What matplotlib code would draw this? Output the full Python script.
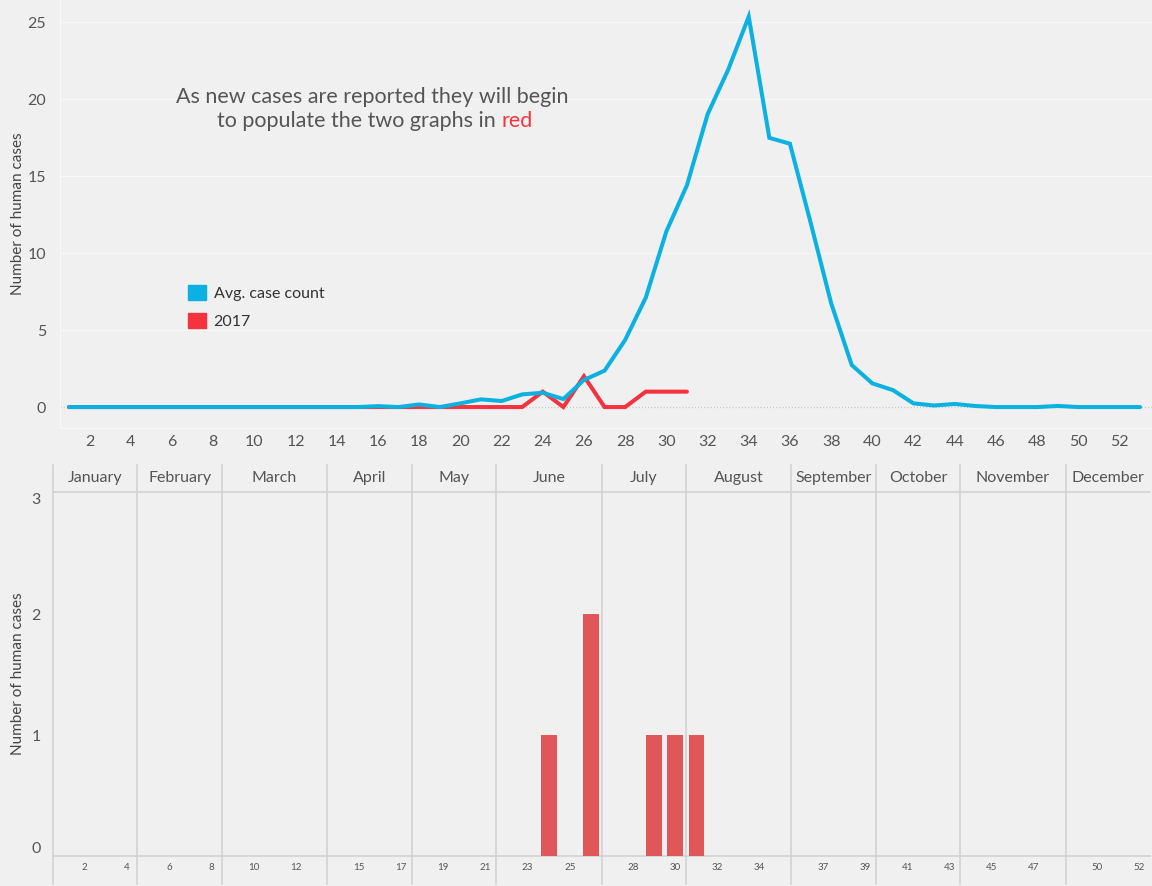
import matplotlib
matplotlib.use("Agg")
import matplotlib.pyplot as plt
from matplotlib.patches import Patch
from matplotlib import font_manager

# ---------------- data ----------------
weeks = list(range(1, 54))
avg_cases = [0, 0, 0, 0, 0, 0, 0, 0, 0, 0,
             0, 0, 0, 0, 0, 0.06, 0, 0.17, 0, 0.24,
             0.5, 0.39, 0.82, 0.93, 0.52, 1.76, 2.36, 4.36, 7.1, 11.4,
             14.4, 19.0, 21.9, 25.35, 17.48, 17.1, 12.0, 6.75, 2.73, 1.54,
             1.1, 0.24, 0.1, 0.2, 0.07, 0, 0, 0, 0.07, 0,
             0, 0, 0]
weeks_2017 = list(range(1, 32))
cases_2017 = [0] * 23 + [1, 0, 2, 0, 0, 1, 1, 1]

bar_weeks = [24, 26, 29, 30, 31]
bar_values = [1, 2, 1, 1, 1]

months = ["January", "February", "March", "April", "May", "June", "July",
          "August", "September", "October", "November", "December"]
weeks_per_month = [4, 4, 5, 4, 4, 5, 4, 5, 4, 4, 5, 4]
bottom_ticks = [2, 4, 6, 8, 10, 12, 15, 17, 19, 21, 23, 25, 28, 30, 32, 34,
                37, 39, 41, 43, 45, 47, 50, 52]
top_xticks = list(range(2, 53, 2))
top_yticks = [0, 5, 10, 15, 20, 25]
bottom_yticks = [0, 1, 2, 3]

# ---------------- style ----------------
names = {f.name for f in font_manager.fontManager.ttflist}
family = "Lato" if "Lato" in names else "DejaVu Sans"
plt.rcParams["font.family"] = [family, "DejaVu Sans"]

BG = "#F0F0F0"
TXT = "#555555"
BLUE = "#0BB1E0"
RED = "#F5333F"
BAR = "#E15759"
DIV = "#D2D2D2"

W, H = 1152, 886
fig = plt.figure(figsize=(W / 100, H / 100), dpi=100, facecolor=BG)

def px_axes(x0, y0, x1, y1):
    return fig.add_axes([x0 / W, (H - y1) / H, (x1 - x0) / W, (y1 - y0) / H])

# ---------------- top chart ----------------
ax = px_axes(60, 0, 1152, 428)
ax.set_facecolor(BG)
ax.plot(weeks_2017, cases_2017, color=RED, lw=2.9, solid_joinstyle="miter",
        solid_capstyle="round", zorder=3)
ax.plot(weeks, avg_cases, color=BLUE, lw=2.9, solid_joinstyle="miter",
        solid_capstyle="round", zorder=4)
ax.axhline(0, color="#C4C4C4", lw=0.9, ls=(0, (1, 1.5)), zorder=2)
ax.set_xlim(0.56, 53.58)
ax.set_ylim(-1.36, 26.43)
ax.set_xticks(top_xticks)
ax.set_yticks(top_yticks)
ax.yaxis.grid(True, color="#F8F8F8", lw=0.8)
ax.set_axisbelow(True)
for s in ["top", "right"]:
    ax.spines[s].set_visible(False)
for s in ["left", "bottom"]:
    ax.spines[s].set_color("#F8F8F8")
ax.tick_params(axis="both", length=0, colors=TXT, labelsize=11.5)
ax.tick_params(axis="x", pad=5)
ax.tick_params(axis="y", pad=10)
ax.set_ylabel("Number of human cases", color="#444444", fontsize=11)
ax.yaxis.set_label_coords((25 - 60) / 1092, 0.5)

leg = ax.legend(handles=[Patch(color=BLUE, label="Avg. case count"),
                         Patch(color=RED, label="2017")],
                loc="upper left", bbox_to_anchor=(188 / W, (H - 285) / H),
                bbox_transform=fig.transFigure, frameon=False, fontsize=11.5,
                handlelength=1.1, handleheight=1.1, handletextpad=0.5,
                labelspacing=0.75, borderpad=0, borderaxespad=0)
for t in leg.get_texts():
    t.set_color("#333333")

fig.text(372 / W, (H - 97) / H, "As new cases are reported they will begin",
         ha="center", va="center", fontsize=15.5, color=TXT)
t2 = fig.text(217 / W, (H - 121) / H, "to populate the two graphs in ",
              ha="left", va="center", fontsize=15.5, color=TXT)
ax.annotate("red", xy=(1, 0), xycoords=t2, ha="left", va="bottom",
            fontsize=15.5, color=RED)

# ---------------- bottom chart ----------------
bx = px_axes(53, 492, 1150, 856)
bx.set_facecolor(BG)
bx.bar(bar_weeks, bar_values, width=0.75, color=BAR, zorder=3)
bx.set_xlim(0.5, 52.5)
bx.set_ylim(0, 3.01)
bx.set_xticks(bottom_ticks)
bx.set_yticks(bottom_yticks)
for s in ["top", "right", "left"]:
    bx.spines[s].set_visible(False)
bx.spines["bottom"].set_color(DIV)
bx.spines["bottom"].set_linewidth(1.2)
bx.tick_params(axis="x", length=0, colors=TXT, labelsize=7, pad=5)
bx.tick_params(axis="y", length=0, colors=TXT, labelsize=11.5, pad=9)
ylabels = bx.get_yticklabels()
ylabels[0].set_va("bottom")
ylabels[-1].set_va("top")
bx.set_ylabel("Number of human cases", color="#444444", fontsize=11)
bx.yaxis.set_label_coords((25 - 53) / 1097, 0.5)

trans = matplotlib.transforms.blended_transform_factory(bx.transData, bx.transAxes)
bounds = [0.5]
for n in weeks_per_month:
    bounds.append(bounds[-1] + n)
y_bot = (856 - 884) / 364
y_top = (856 - 465) / 364
for b in bounds[:-1]:
    bx.plot([b, b], [y_bot, y_top], color=DIV, lw=1.2, transform=trans,
            clip_on=False, zorder=1)
bx.plot([0.5, 52.5], [1, 1], color=DIV, lw=1.2, transform=trans,
        clip_on=False, zorder=1)
for m, a, b in zip(months, bounds[:-1], bounds[1:]):
    bx.text((a + b) / 2, (856 - 478) / 364, m, transform=trans,
            ha="center", va="center", fontsize=11.5, color=TXT)

fig.savefig("out.png", dpi=100, facecolor=BG)
